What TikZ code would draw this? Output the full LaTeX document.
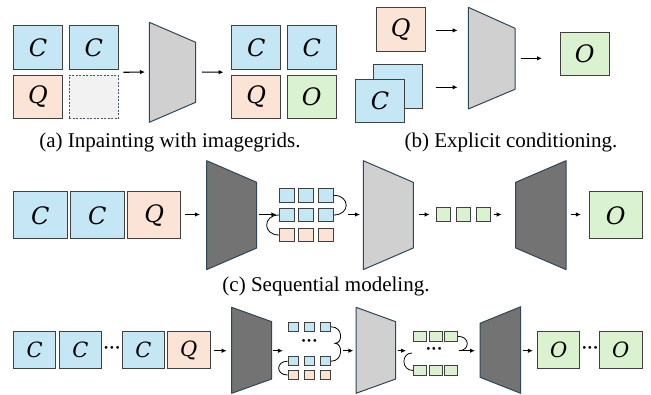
\documentclass[tikz,border=0pt]{standalone}
\usepackage{fontspec}
\setmainfont{Liberation Serif}
\newfontfamily\letterfont{DejaVu Serif}
\usetikzlibrary{arrows.meta,calc}
\definecolor{cblue}{HTML}{C5E6F5}
\definecolor{cpeach}{HTML}{FBE3D6}
\definecolor{cgreen}{HTML}{DAF2D0}
\definecolor{clight}{HTML}{D0D0D0}
\definecolor{cdark}{HTML}{737373}
\definecolor{cedge}{HTML}{404040}
\definecolor{tedge}{HTML}{2E4759}
\definecolor{cempty}{HTML}{F2F2F2}
\definecolor{dedge}{HTML}{44546A}
\begin{document}
\begin{tikzpicture}[x=1pt,y=-1pt,
  lbl/.style={font=\letterfont\fontsize{24}{24}\selectfont\itshape},
  box/.style={draw=cedge, line width=1pt, inner sep=0pt},
  ba/.style={box, lbl, minimum width=49pt, minimum height=43.5pt},
  bc/.style={box, lbl, minimum width=53.5pt, minimum height=47.3pt},
  bd/.style={box, font=\letterfont\fontsize{21}{21}\selectfont\itshape, minimum width=42.5pt, minimum height=37.3pt},
  sqc/.style={box, line width=0.8pt, minimum width=15pt, minimum height=13.4pt},
  sqd/.style={box, line width=0.8pt, minimum width=10.5pt, minimum height=9pt},
  sqg/.style={box, line width=0.8pt, minimum width=13pt, minimum height=10.7pt},
  trap/.style={draw=tedge, line width=1pt, line join=round},
  arr/.style={-{Latex[length=5pt,width=4.5pt]}, line width=1.1pt},
  curve/.style={line width=0.8pt},
  captxt/.style={font=\fontsize{21}{24}\selectfont, anchor=base, inner sep=0pt},
  dots/.style={font=\fontsize{17}{17}\selectfont\bfseries, inner sep=0pt}
]
\useasboundingbox (0,0) rectangle (651,394);

% ---------------- (a) ----------------
\node[ba, fill=cblue]  (aC1) at (38,47.5) {C};
\node[ba, fill=cblue]  (aC2) at (93.7,47.5) {C};
\node[ba, fill=cpeach] (aQ)  at (38,97) {Q};
\node[ba, fill=cempty, draw=dedge, line width=0.8pt, dash pattern=on 2pt off 1.5pt] (aE) at (93.7,97) {};
\filldraw[trap, fill=clight] (149.3,22.3) -- (195.7,42.3) -- (195.7,102.3) -- (149.3,122.3) -- cycle;
\coordinate (T1W) at (149.3,72);
\coordinate (T1E) at (195.7,72);
\node[ba, fill=cblue]  (oC1) at (256.3,47.5) {C};
\node[ba, fill=cblue]  (oC2) at (311.7,47.5) {C};
\node[ba, fill=cpeach] (oQ)  at (256.3,97) {Q};
\node[ba, fill=cgreen] (oO)  at (311.7,97) {O};
\draw[arr, shorten <=4.7pt, shorten >=4.3pt] ($(aC2.south east)!0.5!(aE.north east)$) -- (T1W);
\draw[arr, shorten <=6.3pt, shorten >=7.7pt] (T1E) -- ($(oC1.south west)!0.5!(oQ.north west)$);
\node[captxt] (capa) at (170,147) {(a) Inpainting with imagegrids.};

% ---------------- (b) ----------------
\node[ba, fill=cpeach] (bQ) at (400.7,29.5) {Q};
\node[ba, fill=cblue]  (bCb) at (398,86.3) {};
\node[ba, fill=cblue]  (bC) at (380,101.2) {C};
\filldraw[trap, fill=clight] (468.3,7.3) -- (515,28.3) -- (515,89.3) -- (468.3,109) -- cycle;
\coordinate (T2a) at (468.3,30.4);
\coordinate (T2b) at (468.3,87.3);
\coordinate (T2E) at (515,58.3);
\node[ba, fill=cgreen] (bO) at (584.7,54.2) {O};
\draw[arr, shorten <=10.3pt, shorten >=10.6pt] (bQ.east|-T2a) -- (T2a);
\draw[arr, shorten <=13.3pt, shorten >=10.6pt] (bCb.east|-T2b) -- (T2b);
\draw[arr, shorten <=5.7pt, shorten >=17.7pt] (T2E) -- (bO.west|-T2E);
\node[captxt] (capb) at (511,147) {(b) Explicit conditioning.};

% ---------------- (c) ----------------
\node[bc, fill=cblue]  (cC1) at (40.3,215.3) {C};
\node[bc, fill=cblue]  (cC2) at (97.3,215.3) {C};
\node[bc, fill=cpeach] (cQ)  at (154.2,215.3) {Q};
\filldraw[trap, fill=cdark] (206.7,160.7) -- (256.7,182.3) -- (256.7,248) -- (206.7,269.6) -- cycle;
\coordinate (T3W) at (206.7,214.5);
\coordinate (T3E) at (256.7,214.5);
\foreach \c/\x in {1/286.8,2/306.3,3/325.8}{
  \node[sqc, fill=cblue]  (g1\c) at (\x,195.3) {};
  \node[sqc, fill=cblue]  (g2\c) at (\x,215) {};
  \node[sqc, fill=cpeach] (g3\c) at (\x,235) {};
}
\draw[curve] (g13.east) .. controls +(16.7,0) and +(16.7,0) .. (g23.east);
\draw[curve] (g21.west) .. controls +(-16.3,0) and +(-16.3,0) .. (g31.west);
\filldraw[trap, fill=clight] (363.3,160.7) -- (413.3,182.3) -- (413.3,248) -- (363.3,269.6) -- cycle;
\coordinate (T4W) at (363.3,214.5);
\coordinate (T4E) at (413.3,214.5);
\foreach \c/\x in {1/443.7,2/463.3,3/483}{
  \node[sqc, fill=cgreen, minimum width=14pt] (m\c) at (\x,214.2) {};
}
\filldraw[trap, fill=cdark] (515.7,182.3) -- (566,160.7) -- (566,269.6) -- (515.7,248) -- cycle;
\coordinate (T5W) at (515.7,214.5);
\coordinate (T5E) at (566,214.5);
\node[bc, fill=cgreen] (cO) at (615.8,215.3) {O};
\draw[arr, shorten <=4pt, shorten >=6.7pt] (cQ.east|-T3W) -- (T3W);
\draw[arr, shorten <=2.6pt, shorten >=2.6pt] (T3E) -- (g21.west|-T3E);
\draw[arr, shorten <=14pt, shorten >=3.3pt] (g23.east|-T4W) -- (T4W);
\draw[arr, shorten <=6pt, shorten >=6.7pt] (T4E) -- (m1.west|-T4E);
\draw[arr, shorten <=3.3pt, shorten >=14pt] (m3.east|-T5W) -- (T5W);
\draw[arr, shorten <=4.7pt, shorten >=7.6pt] (T5E) -- (cO.west|-T5E);
\node[captxt] (capc) at (326,291) {(c) Sequential modeling.};

% ---------------- (d) ----------------
\node[bd, fill=cblue]  (dC1) at (34.7,350.3) {C};
\node[bd, fill=cblue]  (dC2) at (80.5,350.3) {C};
\node[dots] (dd1) at (112,350.3) {···};
\node[bd, fill=cblue]  (dC3) at (143.3,350.3) {C};
\node[bd, fill=cpeach] (dQ)  at (188.8,350.3) {Q};
\filldraw[trap, fill=cdark] (231.7,307.3) -- (271.7,321.7) -- (271.7,379) -- (231.7,393.3) -- cycle;
\coordinate (T6W) at (231.7,350.7);
\coordinate (T6E) at (271.7,350.7);
\foreach \c/\x in {1/293.3,2/309.3,3/325.5}{
  \node[sqd, fill=cblue]  (h1\c) at (\x,326.8) {};
  \node[sqd, fill=cblue]  (h2\c) at (\x,361.2) {};
  \node[sqd, fill=cpeach] (h3\c) at (\x,375) {};
}
\node[dots] (dd2) at (309.3,343) {···};
\coordinate (hm) at (335,343.3);
\draw[curve] (h13.east) .. controls +(12,0) and +(8,0) .. (hm) .. controls +(8,0) and +(12,0) .. (h23.east);
\draw[curve] (h21.west) .. controls +(-12,0) and +(-12,0) .. (h31.west);
\filldraw[trap, fill=clight] (356,307.3) -- (395.7,321.7) -- (395.7,379) -- (356,393.3) -- cycle;
\coordinate (T7W) at (356,350.7);
\coordinate (T7E) at (395.7,350.7);
\foreach \c/\x in {1/420,2/435.5,3/451}{
  \node[sqg, fill=cgreen] (k1\c) at (\x,336.3) {};
  \node[sqg, fill=cgreen] (k2\c) at (\x,370.5) {};
}
\node[dots] (dd3) at (434,350.5) {···};
\coordinate (km) at (459,350.7);
\coordinate (kin) at (412,353);
\draw[curve] (k13.east) .. controls +(12.5,0) and +(11,0) .. (km);
\draw[curve] (kin) .. controls +(-11,0) and +(-12,0) .. (k21.west);
\filldraw[trap, fill=cdark] (480,323.3) -- (520.7,306.7) -- (520.7,393.3) -- (480,377.3) -- cycle;
\coordinate (T8W) at (480,350.7);
\coordinate (T8E) at (520.7,350.7);
\node[bd, fill=cgreen] (dO1) at (558.7,350.3) {O};
\node[dots] (dd4) at (590,350.3) {···};
\node[bd, fill=cgreen] (dO2) at (620.8,350.3) {O};
\draw[arr, shorten <=3.3pt, shorten >=5pt] (dQ.east|-T6W) -- (T6W);
\draw[arr, shorten <=1.6pt, shorten >=4.7pt] (T6E) -- (h21.west|-T6E);
\draw[arr, shorten <=12pt, shorten >=2.7pt] (h23.east|-T7W) -- (T7W);
\draw[arr, shorten <=2pt, shorten >=7pt] (T7E) -- (k11.west|-T7E);
\draw[arr, shorten >=5pt] (km) -- (T8W);
\draw[arr, shorten <=2.6pt, shorten >=4pt] (T8E) -- (dO1.west|-T8E);
\end{tikzpicture}
\end{document}
